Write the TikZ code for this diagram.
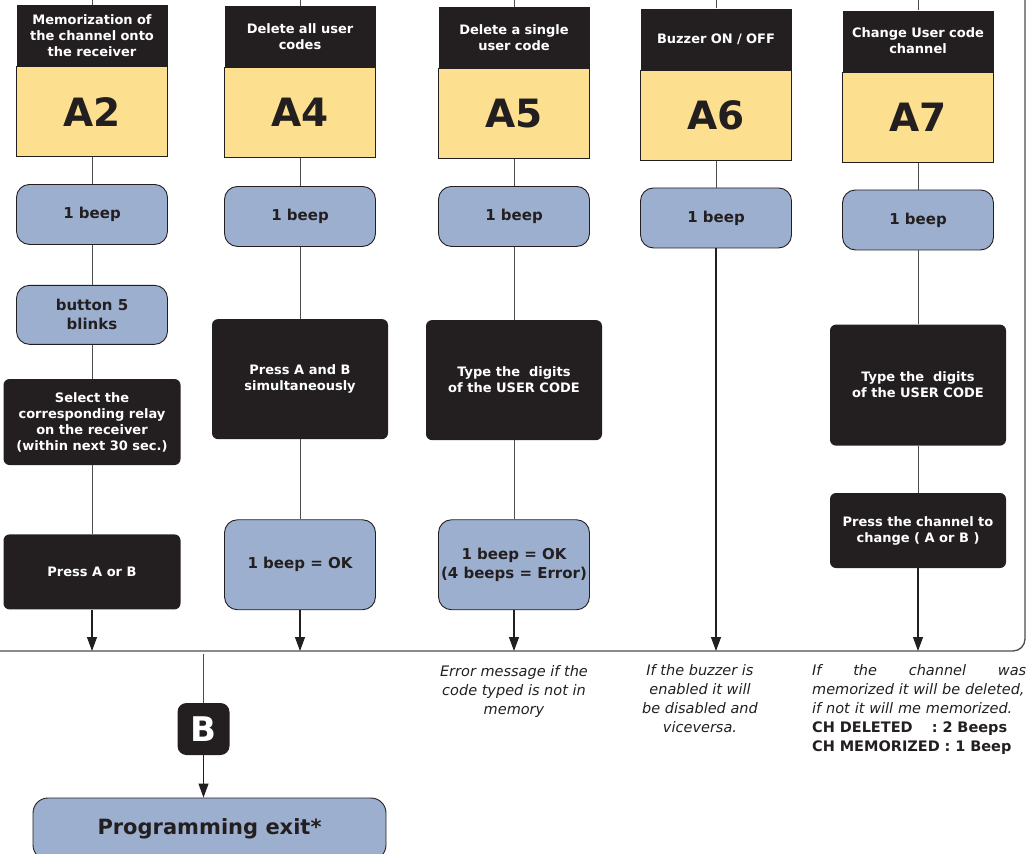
\documentclass[tikz,border=0pt]{standalone}
\usepackage{fontspec}
\setmainfont{DejaVu Sans}
\usetikzlibrary{positioning,arrows.meta}
\definecolor{ink}{HTML}{231F20}
\definecolor{codeyellow}{HTML}{FDE08F}
\definecolor{beepblue}{HTML}{9CAFCF}
\definecolor{wiregray}{HTML}{4D4D4D}

\begin{document}
\begin{tikzpicture}[x=1pt,y=1pt,
	header/.style={fill=ink,text=white,font=\bfseries\fontsize{13}{16}\selectfont,minimum width=151pt,minimum height=61pt,text width=146pt,align=center,inner sep=0pt},
	code/.style={fill=codeyellow,draw=ink,line width=0.8pt,minimum width=151pt,minimum height=90pt,text=ink,font=\bfseries\fontsize{39}{40}\selectfont,inner sep=0pt},
	beep/.style={rounded corners=13pt,fill=beepblue,draw=ink,line width=0.9pt,minimum width=151pt,minimum height=60pt,text=ink,font=\bfseries\fontsize{15}{19}\selectfont,align=center,inner sep=0pt},
	action/.style={rounded corners=6pt,fill=ink,text=white,minimum width=176pt,font=\bfseries\fontsize{13}{16}\selectfont,align=center,inner sep=0pt},
	note/.style={text=ink,font=\itshape\fontsize{14.5}{19}\selectfont,align=center,inner sep=0pt},
	wire/.style={draw=wiregray,line width=0.9pt},
	flow/.style={draw=ink,line width=1.1pt,-{Triangle[width=10pt,length=14pt]}}]

	\useasboundingbox (0,0) rectangle (1031,-854);
	\coordinate (top) at (0,0);
	\coordinate (base) at (0,-651);

	% A2
	\node[header] (t2) at (92,-35.5) {Memorization of\\the channel onto\\the receiver};
	\node[code] (a2) [below=0pt of t2] {A2};
	\node[beep] (b2) [below=27pt of a2] {1 beep};
	\node[beep,minimum height=59pt] (k2) [below=40pt of b2] {button 5\\blinks};
	\node[action,minimum width=177pt,minimum height=86pt] (s2) [below=34pt of k2] {Select the\\corresponding relay\\on the receiver\\(within next 30 sec.)};
	\node[action,minimum width=177pt,minimum height=75pt] (p2) [below=69pt of s2] {Press A or B};
	\draw[wire] (t2.north) -- (t2.north |- top);
	\draw[wire] (a2) -- (b2);
	\draw[wire] (b2) -- (k2);
	\draw[wire] (k2) -- (s2);
	\draw[wire] (s2) -- (p2);
	\draw[flow] (p2) -- (p2 |- base);

	% A4
	\node[header] (t4) at (300,-36.5) {Delete all user\\codes};
	\node[code] (a4) [below=0pt of t4] {A4};
	\node[beep] (b4) [below=28pt of a4] {1 beep};
	\node[action,minimum height=120pt] (p4) [below=72pt of b4] {Press A and B\\simultaneously};
	\node[beep,minimum height=90pt] (o4) [below=80pt of p4] {1 beep = OK};
	\draw[wire] (t4.north) -- (t4.north |- top);
	\draw[wire] (a4) -- (b4);
	\draw[wire] (b4) -- (p4);
	\draw[wire] (p4) -- (o4);
	\draw[flow] (o4) -- (o4 |- base);

	% A5
	\node[header] (t5) at (514,-37.5) {Delete a single\\user code};
	\node[code] (a5) [below=0pt of t5] {A5};
	\node[beep] (b5) [below=27pt of a5] {1 beep};
	\node[action,minimum height=120pt] (p5) [below=73pt of b5] {Type the\ \ digits\\of the USER CODE};
	\node[beep,minimum height=90pt] (o5) [below=79pt of p5] {1 beep = OK\\(4 beeps = Error)};
	\draw[wire] (t5.north) -- (t5.north |- top);
	\draw[wire] (a5) -- (b5);
	\draw[wire] (b5) -- (p5);
	\draw[wire] (p5) -- (o5);
	\draw[flow] (o5) -- (o5 |- base);

	% A6
	\node[header] (t6) at (716,-39) {Buzzer ON / OFF};
	\node[code] (a6) [below=0pt of t6] {A6};
	\node[beep] (b6) [below=27pt of a6] {1 beep};
	\draw[wire] (t6.north) -- (t6.north |- top);
	\draw[wire] (a6) -- (b6);
	\draw[flow] (b6) -- (b6 |- base);

	% A7
	\node[header] (t7) at (918,-41) {Change User code\\channel};
	\node[code] (a7) [below=0pt of t7] {A7};
	\node[beep] (b7) [below=27pt of a7] {1 beep};
	\node[action,minimum height=121pt] (p7) [below=74pt of b7] {Type the\ \ digits\\of the USER CODE};
	\node[action,minimum height=75pt] (c7) [below=47pt of p7] {Press the channel to\\change ( A or B )};
	\draw[wire] (t7.north) -- (t7.north |- top);
	\draw[wire] (a7) -- (b7);
	\draw[wire] (b7) -- (p7);
	\draw[wire] (p7) -- (c7);
	\draw[flow] (c7) -- (c7 |- base);

	% frame
	\draw[wiregray,line width=1.3pt,rounded corners=12pt] (base) -- (1025,-651) -- (1025,0);

	% exit
	\coordinate (split) at (203.5,-654);
	\node[fill=ink,text=white,rounded corners=9pt,minimum size=52pt,inner sep=0pt,font=\bfseries\fontsize{34}{34}\selectfont] (bexit) at (203.5,-729) {B};
	\node[beep,minimum width=353pt,minimum height=62pt,rounded corners=15pt,font=\bfseries\fontsize{21}{24}\selectfont] (exit) at (209.5,-829) {Programming exit*};
	\draw[wire] (split) -- (bexit);
	\draw[flow] (bexit) -- (bexit |- exit.north);

	% notes
	\node[note] (n5) at (514,-691) {Error message if the\\code typed is not in\\memory};
	\node[note] (n6) at (700,-699) {If the buzzer is\\enabled it will\\be disabled and\\viceversa.};
	\node[note,align=left,text width=214pt,anchor=north west] (n7) at (812,-664) {If\hfill the\hfill channel\hfill was\\memorized it will be deleted,\\if not it will me memorized.\\{\upshape\bfseries\makebox[195pt][l]{CH DELETED\hfill: 2 Beeps}\\CH MEMORIZED : 1 Beep}};

\end{tikzpicture}
\end{document}
